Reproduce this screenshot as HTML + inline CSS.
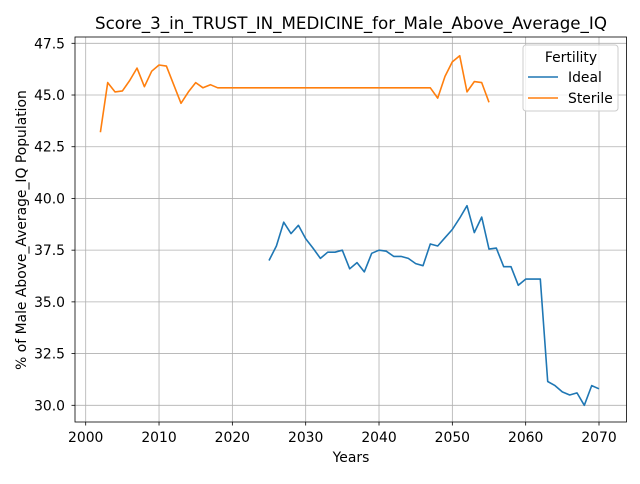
<!DOCTYPE html>
<html><head><meta charset="utf-8"><style>
body{margin:0;background:#fff;font-family:"DejaVu Sans","Liberation Sans",sans-serif}
</style></head><body>
<svg width="640" height="480" xmlns="http://www.w3.org/2000/svg" font-family="DejaVu Sans, Liberation Sans, sans-serif">
<text x="351" y="29" text-anchor="middle" font-size="16.7">Score_3_in_TRUST_IN_MEDICINE_for_Male_Above_Average_IQ</text>
<g id="grid"></g>
<g id="ticks" font-size="13.9"></g>
<g id="series"></g>
<rect x="75" y="37" width="551.5" height="385" fill="none" stroke="#000" stroke-width="0.8"/>
<text x="351" y="462" text-anchor="middle" font-size="13.9">Years</text>
<text transform="translate(26,230) rotate(-90)" text-anchor="middle" font-size="13.9">% of Male Above_Average_IQ Population</text>
<g>
<rect x="523" y="45" width="95" height="66" fill="#fff" fill-opacity="0.8" stroke="#ccc" rx="3"/>
<text x="571" y="62" text-anchor="middle" font-size="13.9">Fertility</text>
<line x1="528" y1="77" x2="558" y2="77" stroke="#1f77b4" stroke-width="1.5"/>
<text x="568" y="82" font-size="13.9">Ideal</text>
<line x1="528" y1="98" x2="558" y2="98" stroke="#ff7f0e" stroke-width="1.5"/>
<text x="568" y="103" font-size="13.9">Sterile</text>
</g>
</svg>
<script>
const xTicks=[2000,2010,2020,2030,2040,2050,2060,2070];
const yTicks=[30.0,32.5,35.0,37.5,40.0,42.5,45.0,47.5];
const sterileStart=2002;
const sterileVals=[43.2,45.6,45.15,45.2,45.7,46.3,45.4,46.15,46.45,46.4,45.5,44.6,45.15,45.6,45.35,45.5,45.35,45.35,45.35,45.35,45.35,45.35,45.35,45.35,45.35,45.35,45.35,45.35,45.35,45.35,45.35,45.35,45.35,45.35,45.35,45.35,45.35,45.35,45.35,45.35,45.35,45.35,45.35,45.35,45.35,45.35,44.85,45.9,46.6,46.9,45.15,45.65,45.6,44.65];
const idealStart=2025;
const idealVals=[37.0,37.7,38.85,38.3,38.7,38.05,37.6,37.1,37.4,37.4,37.5,36.6,36.9,36.45,37.35,37.5,37.45,37.2,37.2,37.1,36.85,36.75,37.8,37.7,38.1,38.5,39.05,39.65,38.35,39.1,37.55,37.6,36.7,36.7,35.8,36.1,36.1,36.1,31.15,30.95,30.65,30.5,30.6,30.0,30.95,30.8];
const X=v=>85.7+(v-2000)*(513.3/70);
const Y=v=>405.3-(v-30)*(362/17.5);
const NS='http://www.w3.org/2000/svg';
const grid=document.getElementById('grid'),ticks=document.getElementById('ticks'),series=document.getElementById('series');
function mk(t,a,p){const e=document.createElementNS(NS,t);for(const k in a)e.setAttribute(k,a[k]);p.appendChild(e);return e;}
xTicks.forEach(v=>{const x=X(v);
const g=mk('line',{x1:x,x2:x,y1:37,y2:422,stroke:'#b0b0b0','stroke-width':0.8},grid);


mk('line',{x1:x,x2:x,y1:422,y2:425.5,stroke:'#000','stroke-width':0.8},ticks);
const t=mk('text',{x:x,y:442,'text-anchor':'middle'},ticks);t.textContent=v;

});
yTicks.forEach(v=>{const y=Y(v);
const g=mk('line',{x1:75,x2:626.5,y1:y,y2:y,stroke:'#b0b0b0','stroke-width':0.8},grid);


mk('line',{x1:71.5,x2:75,y1:y,y2:y,stroke:'#000','stroke-width':0.8},ticks);
const t=mk('text',{x:65,y:y+5,'text-anchor':'end'},ticks);t.textContent=v.toFixed(1);

});
function line(start,vals,color,name){const pts=vals.map((v,i)=>X(start+i).toFixed(1)+','+Y(v).toFixed(1)).join(' ');
const p=mk('polyline',{points:pts,fill:'none',stroke:color,'stroke-width':1.6,'stroke-linejoin':'round'},series);

}
line(sterileStart,sterileVals,'#ff7f0e','sterile-line');
line(idealStart,idealVals,'#1f77b4','ideal-line');
</script>
</body></html>
